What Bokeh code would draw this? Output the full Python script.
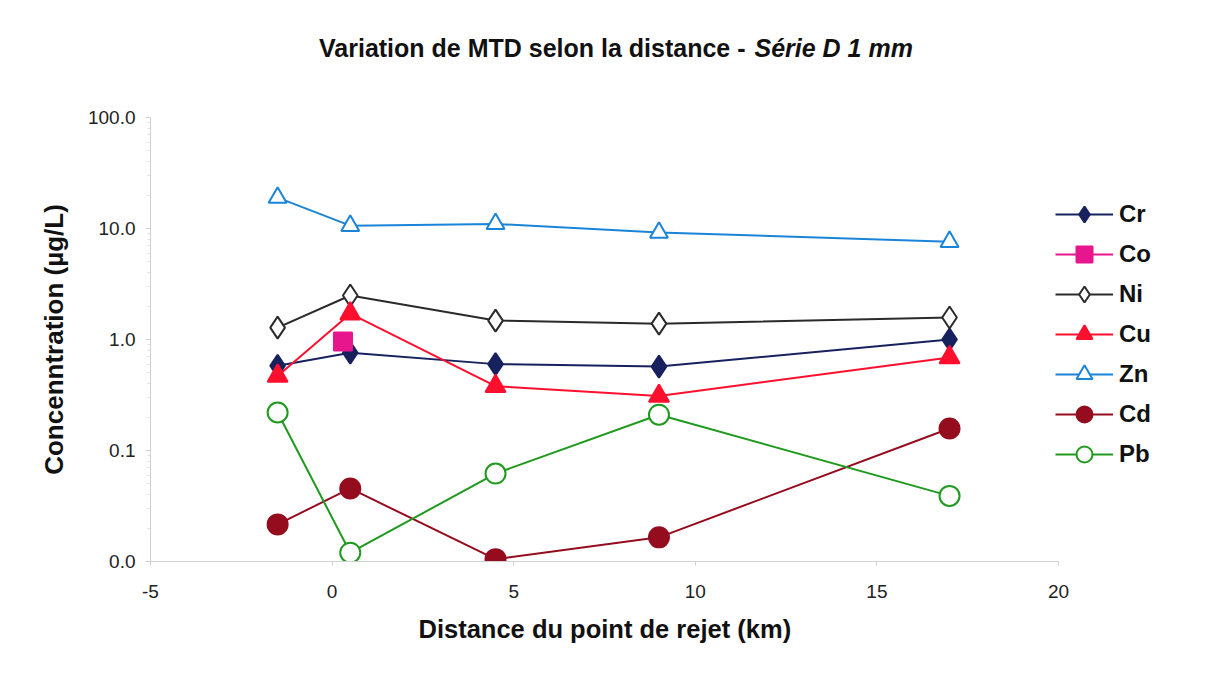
from bokeh.plotting import figure
from bokeh.layouts import column
from bokeh.models import Range1d, FixedTicker, Legend, LegendItem, Label, Title
from bokeh.embed import file_html
from bokeh.resources import INLINE

distance = [-1.5, 0.5, 4.5, 9, 17]
cr = [0.58, 0.76, 0.60, 0.57, 1.0]
co_x = [0.3]
co = [0.96]
ni = [1.28, 2.49, 1.48, 1.39, 1.58]
cu = [0.47, 1.71, 0.38, 0.31, 0.69]
zn = [19.0, 10.6, 11.0, 9.2, 7.6]
cd = [0.0216, 0.0455, 0.0105, 0.0165, 0.158]
pb = [0.22, 0.012, 0.062, 0.21, 0.039]

y_ticks = [0.01, 0.1, 1, 10, 100]
y_tick_labels = ["0.0", "0.1", "1.0", "10.0", "100.0"]
x_ticks = [-5, 0, 5, 10, 15, 20]
x_tick_labels = ["-5", "0", "5", "10", "15", "20"]

FONT = "Liberation Sans"
TITLE_H = 70
LEFT = 150
AXIS_W = 908            # pixel length of the -5..20 axis
FW = 1054               # frame extends right to host the legend
RIGHT = 2
X_START, X_END_AXIS = -5, 20
X_END_VIEW = X_START + (X_END_AXIS - X_START) * FW / AXIS_W

# ---- title strip (frame aligned with the chart frame) ----
tp = figure(output_backend="svg", toolbar_location=None,
            frame_width=FW, frame_height=TITLE_H,
            min_border_left=LEFT, min_border_right=RIGHT, min_border_top=0, min_border_bottom=0,
            x_axis_location=None, y_axis_location=None,
            x_range=Range1d(0, 1), y_range=Range1d(0, 1))
tp.outline_line_color = None
tp.xgrid.visible = False
tp.ygrid.visible = False
t1 = Label(x=595, y=TITLE_H - 47, x_units="screen", y_units="screen",
           text_align="right", text_baseline="alphabetic",
           text="Variation de MTD selon la distance -", text_font=FONT,
           text_font_size="25px", text_font_style="bold", text_color="#111111")
t2 = Label(x=604, y=TITLE_H - 47, x_units="screen", y_units="screen",
           text_align="left", text_baseline="alphabetic",
           text="Série D 1 mm", text_font=FONT,
           text_font_size="25px", text_font_style="bold italic", text_color="#111111")
tp.add_layout(t1)
tp.add_layout(t2)

# ---- main chart ----
p = figure(output_backend="svg", toolbar_location=None,
           y_axis_type="log", x_range=Range1d(X_START, X_END_VIEW), y_range=Range1d(0.01, 100),
           frame_width=FW, frame_height=444,
           min_border_left=LEFT, min_border_right=RIGHT, min_border_top=117 - TITLE_H,
           min_border_bottom=97)
p.title = None
p.outline_line_color = None
p.xgrid.visible = False
p.ygrid.visible = False

for ax in (p.xaxis[0], p.yaxis[0]):
    ax.axis_line_color = "#d0d0d0"
    ax.major_tick_line_color = "#d0d0d0"
    ax.minor_tick_line_color = "#e0e0e0"
    ax.major_label_text_font = FONT
    ax.major_label_text_font_size = "19px"
    ax.major_label_text_color = "#222222"
    ax.axis_label_text_font = FONT
    ax.axis_label_text_font_style = "bold"
    ax.axis_label_text_color = "#111111"

p.xaxis.bounds = (X_START, X_END_AXIS)
p.xaxis.ticker = FixedTicker(ticks=x_ticks)
p.xaxis.major_label_overrides = {t: l for t, l in zip(x_ticks, x_tick_labels)}
p.xaxis.major_tick_in = 0
p.xaxis.major_tick_out = 4
p.xaxis.major_label_standoff = 19

# x-axis title, placed under the -5..20 axis (not under the wider frame)
xtitle = Title(text="Distance du point de rejet (km)", align="left",
               offset=268, standoff=24,
               text_font=FONT, text_font_size="25.5px", text_font_style="bold",
               text_color="#111111")
p.add_layout(xtitle, "below")

p.yaxis.ticker = FixedTicker(ticks=y_ticks, minor_ticks=[0.02,0.03,0.04,0.05,0.06,0.07,0.08,0.09,
                                                          0.2,0.3,0.4,0.5,0.6,0.7,0.8,0.9,
                                                          2,3,4,5,6,7,8,9,20,30,40,50,60,70,80,90])
p.yaxis.major_label_overrides = {t: l for t, l in zip(y_ticks, y_tick_labels)}
p.yaxis.major_tick_in = 0
p.yaxis.major_tick_out = 5
p.yaxis.minor_tick_in = 0
p.yaxis.minor_tick_out = 3
p.yaxis.major_label_standoff = 10
p.yaxis.axis_label = "Concenntration (µg/L)"
p.yaxis.axis_label_text_font_size = "26px"
p.yaxis.axis_label_standoff = 16

items = []
def series(name, xs, ys, color, marker, fill, size, lw=2):
    r = []
    r.append(p.line(xs, ys, line_color=color, line_width=lw))
    r.append(p.scatter(xs, ys, marker=marker, size=size, line_color=color, line_width=2,
                       fill_color=fill))
    items.append(LegendItem(label=name, renderers=r))

series("Cr", distance, cr, "#17215e", "diamond", "#17215e", 22)
series("Co", co_x, co, "#e8168c", "square", "#e8168c", 18)
series("Ni", distance, ni, "#2a2a2a", "diamond", "white", 22)
series("Cu", distance, cu, "#ff0f2e", "triangle", "#ff0f2e", 20)
series("Zn", distance, zn, "#1a84d8", "triangle", "white", 18)
series("Cd", distance, cd, "#950c1f", "circle", "#950c1f", 20)
series("Pb", distance, pb, "#1f9a1f", "circle", "white", 20)

legend = Legend(items=items, location=(905, 87), border_line_color=None,
                background_fill_alpha=0,
                label_text_font=FONT, label_text_font_size="24px", label_text_font_style="bold",
                label_text_color="#111111", glyph_width=58, glyph_height=40, spacing=0,
                label_standoff=6, padding=0, margin=0)
p.add_layout(legend)

layout = column(tp, p, spacing=0)
open("out.html", "w").write(file_html(layout, INLINE))
